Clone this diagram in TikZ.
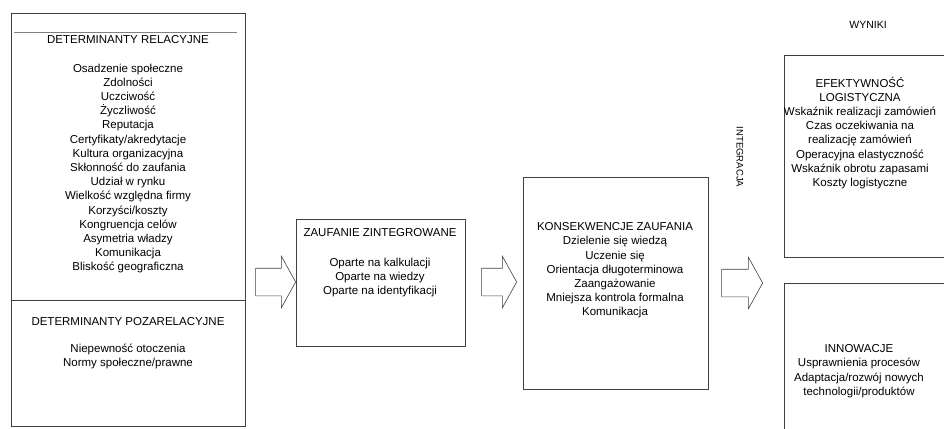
\documentclass[tikz,border=0pt]{standalone}
\usepackage{fontspec}
\setmainfont{Liberation Sans}
\usetikzlibrary{shapes.arrows, positioning}
\definecolor{framegray}{RGB}{64, 64, 64}

\begin{document}
\begin{tikzpicture}[x=1pt, y=-1pt,
  frame/.style={draw=framegray, line width=0.8pt, anchor=north west,
                inner sep=0pt},
  title/.style={font=\fontsize{11.5}{14.2}\selectfont, inner sep=0pt},
  txt/.style={align=center, font=\fontsize{11.5}{14.2}\selectfont,
              inner sep=0pt, anchor=north},
  blockarr/.style={single arrow, draw=framegray, line width=0.6pt,
                   inner xsep=0pt, inner ysep=13.5pt,
                   single arrow head extend=12pt,
                   single arrow tip angle=122, anchor=tip}
]
  \useasboundingbox (0,0) rectangle (944,428);

  % boxes
  \node[frame, minimum width=234.5pt, minimum height=287pt] (detrel) at (10.5,13) {};
  \node[frame, minimum width=234.5pt, minimum height=126pt] (detpoz) at (10.5,300) {};
  \node[frame, minimum width=169pt, minimum height=127pt] (zauf) at (296,219) {};
  \node[frame, minimum width=185pt, minimum height=212pt] (kons) at (523,177) {};
  \node[frame, minimum width=200pt, minimum height=202pt] (efekt) at (784,55) {};
  \node[frame, minimum width=200pt, minimum height=180pt] (innow) at (784,283) {};
  \draw[gray, line width=0.6pt] (14,32) -- (237,32);

  % texts
  \node[title] (relT) at (128,40) {DETERMINANTY RELACYJNE};
  \node[txt] (relL) at (128,63.5)
    {Osadzenie społeczne\\Zdolności\\Uczciwość\\Życzliwość\\Reputacja\\
     Certyfikaty/akredytacje\\Kultura organizacyjna\\Skłonność do zaufania\\
     Udział w rynku\\Wielkość względna firmy\\Korzyści/koszty\\
     Kongruencja celów\\Asymetria władzy\\Komunikacja\\Bliskość geograficzna};
  \node[title] (pozT) at (128,322) {DETERMINANTY POZARELACYJNE};
  \node[txt] (pozL) at (128,343.5)
    {Niepewność otoczenia\\Normy społeczne/prawne};
  \node[title] (zaufT) at (380,233) {ZAUFANIE ZINTEGROWANE};
  \node[txt] (zaufL) at (380,257.5)
    {Oparte na kalkulacji\\Oparte na wiedzy\\Oparte na identyfikacji};
  \node[txt] (konsL) at (615,222.5)
    {KONSEKWENCJE ZAUFANIA\\Dzielenie się wiedzą\\Uczenie się\\
     Orientacja długoterminowa\\Zaangażowanie\\Mniejsza kontrola formalna\\
     Komunikacja};
  \node[txt] (efektL) at (860,76.5)
    {EFEKTYWNOŚĆ\\LOGISTYCZNA\\Wskaźnik realizacji zamówień\\
     Czas oczekiwania na\\realizację zamówień\\Operacyjna elastyczność\\
     Wskaźnik obrotu zapasami\\Koszty logistyczne};
  \node[txt] (innowL) at (859,344.5)
    {INNOWACJE\\Usprawnienia procesów\\Adaptacja/rozwój nowych\\
     technologii/produktów};
  \node[title, font=\fontsize{10.5}{12}\selectfont] (wyniki) at (868,25) {WYNIKI};
  \node[title, font=\fontsize{9.5}{11}\selectfont, rotate=-90] (integr) at (740,157) {INTEGRACJA};

  % arrows
  \node[blockarr, minimum height=40pt] (arrA) at (296,282) {};
  \node[blockarr, minimum height=35pt] (arrB) at (517,282) {};
  \node[blockarr, minimum height=41pt] (arrC) at (763,283) {};
\end{tikzpicture}
\end{document}
